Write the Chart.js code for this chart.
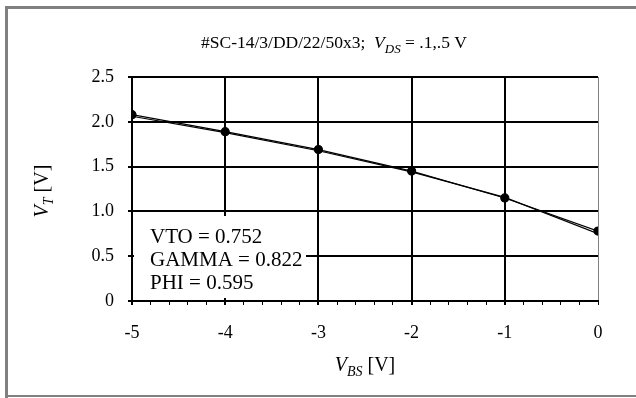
<!DOCTYPE html>
<html>
<head>
<meta charset="utf-8">
<script src="https://cdn.jsdelivr.net/npm/chart.js@4/dist/chart.umd.min.js"></script>
<style>
  html, body { margin: 0; padding: 0; background: #fff; }
  #wrap { width: 636px; height: 398px; }
</style>
</head>
<body>
<div id="wrap"><canvas id="vtChart" width="636" height="398"></canvas></div>
<script>
// body bias sweep, threshold voltage
const vbs = [-5, -4, -3, -2, -1, 0];
const vtMeasured = [2.08, 1.89, 1.69, 1.45, 1.15, 0.78];
const vtModel = [2.062, 1.880, 1.677, 1.442, 1.156, 0.752];

const yTicks = [0, 0.5, 1.0, 1.5, 2.0, 2.5];
const xTicks = [-5, -4, -3, -2, -1, 0];

const fitParams = ["VTO = 0.752", "GAMMA = 0.822", "PHI = 0.595"];

const SERIF = "'Liberation Serif', 'Times New Roman', serif";

const isMajor = v => Math.abs(v - Math.round(v)) < 1e-6;

// draw a run of text pieces (normal / italic / subscript) left to right
function drawRun(ctx, parts, x, y) {
  for (const p of parts) {
    ctx.font = p.font;
    ctx.fillText(p.text, x, y + (p.dy || 0));
    x += ctx.measureText(p.text).width;
  }
  return x;
}
function runWidth(ctx, parts) {
  let w = 0;
  for (const p of parts) { ctx.font = p.font; w += ctx.measureText(p.text).width; }
  return w;
}

const decorations = {
  id: "decorations",
  beforeDraw(chart) {
    const ctx = chart.ctx;
    ctx.save();
    ctx.fillStyle = "#fff";
    ctx.fillRect(0, 0, chart.width, chart.height);
    // outer frame
    ctx.fillStyle = "#808080";
    ctx.fillRect(5, 6, chart.width - 5, 3);
    ctx.fillRect(5, 6, 3, chart.height - 6);
    ctx.fillRect(5, chart.height - 3, chart.width - 5, 2);
    ctx.restore();
  },
  beforeDatasetsDraw(chart) {
    const ctx = chart.ctx;
    const xs = chart.scales.x;
    ctx.save();
    // parameter box
    ctx.fillStyle = "#fff";
    ctx.fillRect(xs.left + 2, 216, 172, 82);
    ctx.fillStyle = "#000";
    ctx.textBaseline = "alphabetic";
    ctx.font = "21px " + SERIF;
    fitParams.forEach((t, i) => ctx.fillText(t, 150, 243 + i * 23));
    ctx.restore();
  },
  afterDraw(chart) {
    const ctx = chart.ctx;
    const ca = chart.chartArea;
    ctx.save();
    ctx.fillStyle = "#000";
    ctx.textBaseline = "alphabetic";

    // title
    const reg = "17.5px " + SERIF;
    const ital = "italic 17.5px " + SERIF;
    const sub = "italic 13px " + SERIF;
    let x = drawRun(ctx, [{ text: "#SC-14/3/DD/22/50x3;  ", font: reg }], 201, 48);
    drawRun(ctx, [
      { text: "V", font: ital },
      { text: "DS", font: sub, dy: 5 },
      { text: " = .1,.5 V", font: reg }
    ], x, 48);

    // x axis title
    const xt = [
      { text: "V", font: "italic 20px " + SERIF },
      { text: "BS", font: "italic 14px " + SERIF, dy: 5 },
      { text: " [V]", font: "20px " + SERIF }
    ];
    drawRun(ctx, xt, (ca.left + ca.right) / 2 - runWidth(ctx, xt) / 2, 371);

    // y axis title
    const yt = [
      { text: "V", font: "italic 20px " + SERIF },
      { text: "T", font: "italic 14px " + SERIF, dy: 5 },
      { text: " [V]", font: "20px " + SERIF }
    ];
    ctx.translate(48, 191);
    ctx.rotate(-Math.PI / 2);
    drawRun(ctx, yt, -runWidth(ctx, yt) / 2, 0);
    ctx.restore();
  }
};

new Chart(document.getElementById("vtChart"), {
  type: "scatter",
  data: {
    datasets: [
      {
        label: "measured",
        data: vbs.map((v, i) => ({ x: v, y: vtMeasured[i] })),
        showLine: true,
        borderColor: "#000",
        borderWidth: 1.2,
        backgroundColor: "#000",
        pointRadius: 4,
        pointHoverRadius: 4,
        tension: 0
      },
      {
        label: "model",
        data: vbs.map((v, i) => ({ x: v, y: vtModel[i] })),
        showLine: true,
        borderColor: "#000",
        borderWidth: 1.2,
        pointRadius: 0,
        tension: 0
      }
    ]
  },
  options: {
    responsive: false,
    animation: false,
    events: [],
    layout: { padding: { top: 77, right: 38, left: 0, bottom: 0 } },
    plugins: { legend: { display: false }, tooltip: { enabled: false } },
    scales: {
      x: {
        type: "linear",
        min: xTicks[0],
        max: xTicks[xTicks.length - 1],
        afterFit: s => { s.height = 97; },
        border: { display: true, color: "#000", width: 2 },
        grid: {
          drawOnChartArea: true,
          tickLength: 4,
          tickColor: "#000",
          color: c => {
            const v = c.tick.value;
            if (!isMajor(v)) return "rgba(0,0,0,0)";
            return v === 0 ? "#808080" : "#000";
          },
          lineWidth: c => (isMajor(c.tick.value) && c.tick.value !== 0 ? 2 : 1)
        },
        ticks: {
          stepSize: 0.2,
          autoSkip: false,
          maxRotation: 0,
          padding: 17,
          color: "#000",
          font: { family: SERIF, size: 18 },
          callback: v => (isMajor(v) && xTicks.includes(Math.round(v)) ? String(Math.round(v)) : "")
        }
      },
      y: {
        type: "linear",
        min: yTicks[0],
        max: yTicks[yTicks.length - 1],
        afterFit: s => { s.width = 132; },
        afterBuildTicks: s => { s.ticks = yTicks.map(v => ({ value: v })); },
        border: { display: true, color: "#000", width: 2 },
        grid: {
          color: "#000",
          lineWidth: 2,
          tickLength: 4,
          tickColor: "#000"
        },
        ticks: {
          padding: 14,
          color: "#000",
          font: { family: SERIF, size: 18 },
          callback: v => (v === 0 ? "0" : v.toFixed(1))
        }
      }
    }
  },
  plugins: [decorations]
});
</script>
</body>
</html>
